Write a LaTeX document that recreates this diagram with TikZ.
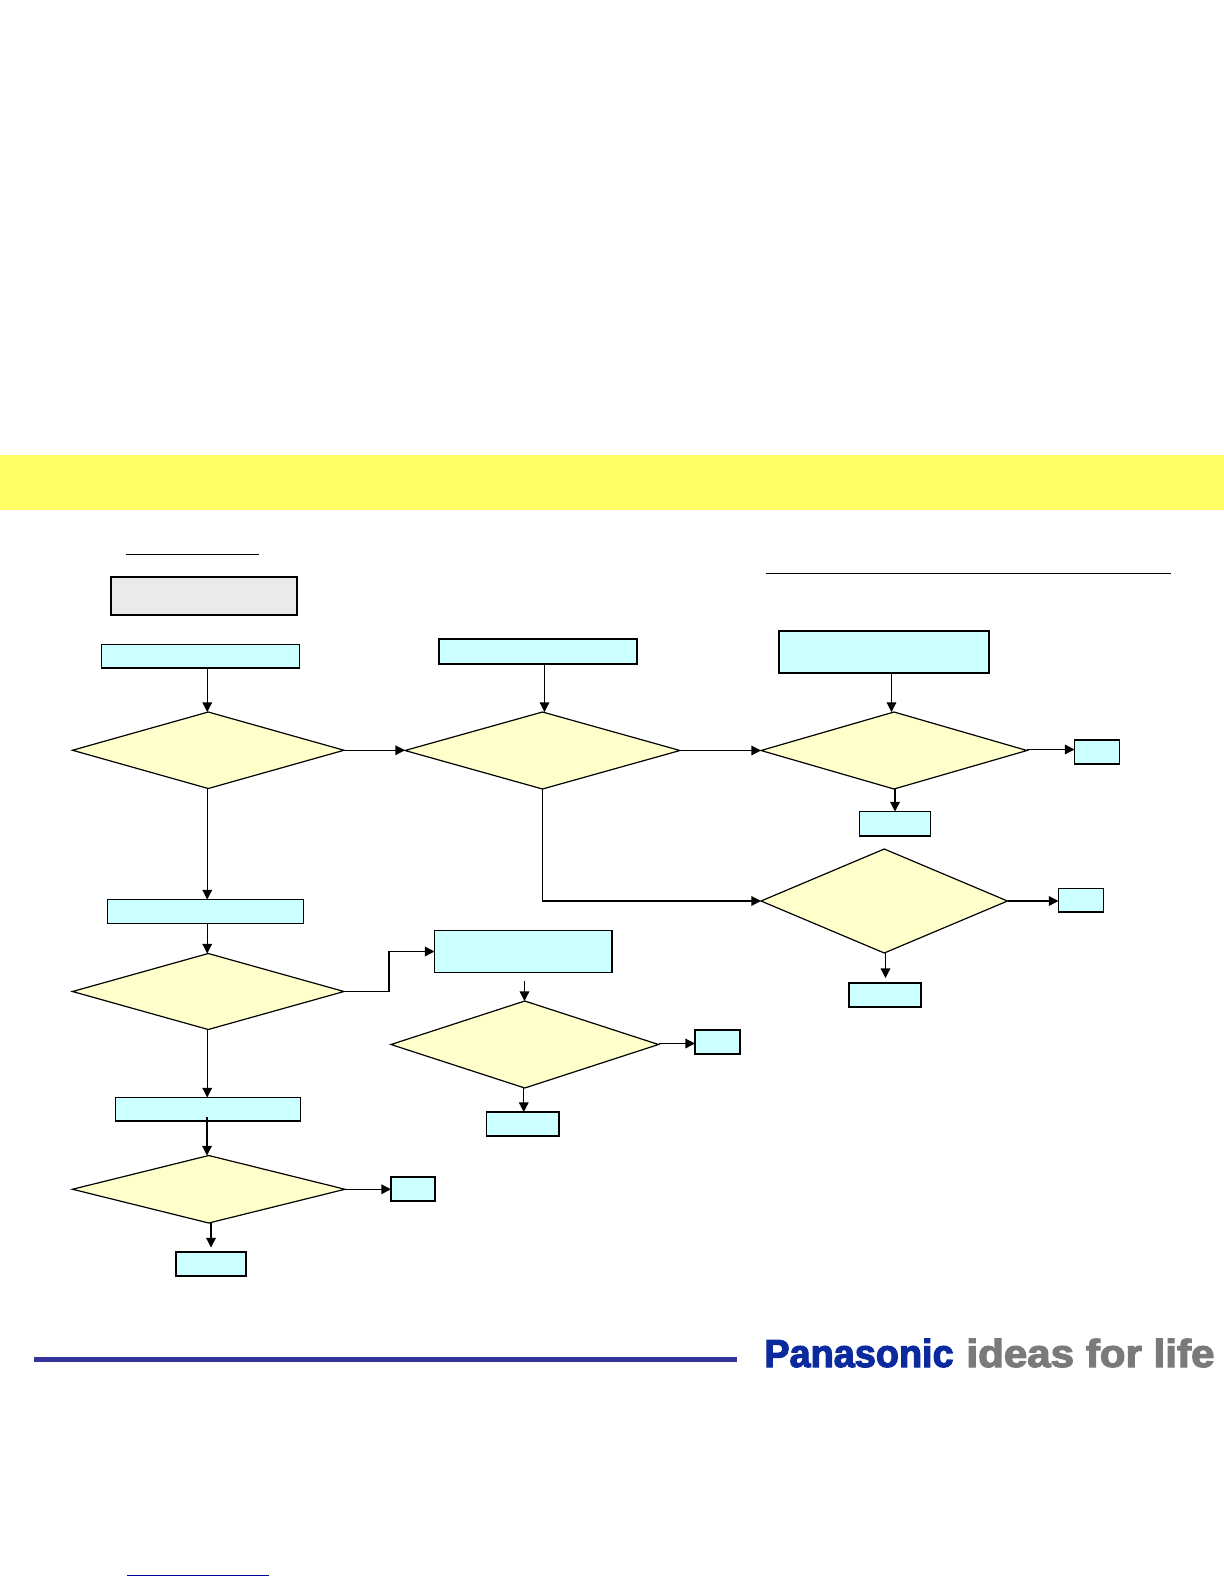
\documentclass[tikz,border=0pt]{standalone}
\usepackage{fontspec}
\usetikzlibrary{shapes.geometric,arrows.meta}
\newfontfamily\logofont[FakeBold=3]{Liberation Sans Bold}
\definecolor{bandyellow}{HTML}{FFFF66}
\definecolor{boxblue}{HTML}{CCFFFF}
\definecolor{diayellow}{HTML}{FFFFCC}
\definecolor{boxgray}{HTML}{EAEAEA}
\definecolor{rulenavy}{HTML}{333399}
\definecolor{linknavy}{HTML}{000099}
\definecolor{logoblue}{HTML}{0A2A9E}
\definecolor{logogray}{HTML}{7A7A7A}
\tikzset{
  x=0.5pt,y=-0.5pt,
  stepbox/.style={rectangle,draw=black,fill=boxblue,line width=0.6pt,inner sep=0pt,outer sep=0pt},
  heavybox/.style={stepbox,line width=1pt},
  graybox/.style={heavybox,fill=boxgray},
  choice/.style={diamond,draw=black,fill=diayellow,line width=0.6pt,inner sep=0pt,outer sep=0pt},
  arr/.style={draw=black,line width=0.6pt,-{Triangle[length=4.8pt,width=4.8pt]}},
  rulethin/.style={draw=black,line width=0.5pt},
}
% \bx[style]{name}{x1}{y1}{x2}{y2}
\newcommand{\bx}[6][stepbox]{%
  \node[#1,minimum width={(#5-#3)*0.5pt},minimum height={(#6-#4)*0.5pt}] (#2) at ({(#3+#5)/2},{(#4+#6)/2}) {};}
% \dm{name}{x1}{y1}{x2}{y2}
\newcommand{\dm}[5]{%
  \pgfmathsetmacro{\dmratio}{(#4-#2)/(#5-#3)}%
  \node[choice,aspect=\dmratio,minimum width={(#4-#2)*0.5pt},minimum height={(#5-#3)*0.5pt}] (#1) at ({(#2+#4)/2},{(#3+#5)/2}) {};}
\begin{document}
\begin{tikzpicture}
\useasboundingbox (0,0) rectangle (1224,1584);
\fill[white] (0,0) rectangle (1224,1584);
% band
\node[rectangle,fill=bandyellow,inner sep=0pt,outer sep=0pt,minimum width=612pt,minimum height=27.75pt] (band) at (612,482.25) {};
% underlines
\coordinate (ulAa) at (126,554); \coordinate (ulAb) at (259,554);
\draw[rulethin] (ulAa) -- (ulAb);
\coordinate (ulBa) at (766,573.5); \coordinate (ulBb) at (1171,573.5);
\draw[rulethin] (ulBa) -- (ulBb);
\coordinate (ulCa) at (127,1575); \coordinate (ulCb) at (269,1575);
\draw[draw=linknavy,line width=0.5pt] (ulCa) -- (ulCb);
% boxes
\bx[graybox]{legend}{110.5}{577}{297}{615}
\bx{topA}{101.5}{644.5}{299.5}{668}
\bx[heavybox]{topB}{438.5}{639}{636.5}{664}
\bx[heavybox]{topC}{779}{631}{989}{673}
\bx{boxOne}{1074.5}{740}{1119.5}{764}
\bx{boxTwo}{859.5}{811.5}{930.5}{836}
\bx{boxThree}{1058.5}{888.5}{1103.5}{912}
\bx[heavybox]{boxFour}{849}{982.5}{921}{1007}
\bx{midA}{107.5}{899.5}{303.5}{923.5}
\bx{midB}{434.5}{930.5}{612}{972.5}
\bx[heavybox]{boxFive}{695}{1030}{740}{1054}
\bx{boxSix}{486.5}{1112}{559}{1136}
\bx{lowA}{115.5}{1097.5}{300.5}{1121}
\bx[heavybox]{boxSeven}{391}{1176.5}{435}{1200.5}
\bx[heavybox]{boxEight}{175.5}{1251.5}{246}{1276}
% diamonds
\dm{dA}{72.5}{712}{344}{788.5}
\dm{dB}{405}{712}{680}{789}
\dm{dC}{761}{712}{1027}{789}
\dm{dD}{761}{849}{1007.5}{953}
\dm{dE}{72.5}{953.5}{344}{1029.5}
\dm{dF}{391}{1001}{658.5}{1088}
\dm{dG}{72.5}{1155.5}{345}{1223}
% connectors
\draw[arr] ([xshift=-0.5pt]dA.north |- topA.south) -- ([xshift=-0.5pt]dA.north);
\draw[arr] ([xshift=1pt]dB.north |- topB.south) -- ([xshift=1pt]dB.north);
\draw[arr] ([xshift=-1.25pt]dC.north |- topC.south) -- ([xshift=-1.25pt]dC.north);
\draw[arr] (dA.east) -- (dA.east -| dB.west);
\draw[arr] (dB.east) -- (dB.east -| dC.west);
\draw[arr] ([yshift=0.5pt]dC.east) -- ([yshift=0.5pt]dC.east -| boxOne.west);
\draw[arr] ([xshift=0.5pt]dC.south) -- ([xshift=0.5pt]dC.south |- boxTwo.north);
\draw[arr] (dB.south) |- (dD.west);
\draw[arr] (dD.east) -- (dD.east -| boxThree.west);
\coordinate (dDout) at (885.5,978);
\draw[arr] (dDout |- dD.south) -- (dDout);
\draw[arr] ([xshift=-0.5pt]dA.south) -- ([xshift=-0.5pt]dA.south |- midA.north);
\draw[arr] ([xshift=-0.5pt]dE.north |- midA.south) -- ([xshift=-0.5pt]dE.north);
\coordinate (elbow) at (389,991.5);
\draw[arr] (dE.east) -- (elbow) |- (midB.west);
\coordinate (dFin) at (524.5,981);
\draw[arr] (dFin) -- (dFin |- dF.north);
\draw[arr] ([yshift=0.5pt]dF.east) -- ([yshift=0.5pt]dF.east -| boxFive.west);
\draw[arr] ([xshift=-0.5pt]dF.south) -- ([xshift=-0.5pt]dF.south |- boxSix.north);
\draw[arr] ([xshift=-0.5pt]dE.south) -- ([xshift=-0.5pt]dE.south |- lowA.north);
\coordinate (lowIn) at (207,1116.5);
\draw[arr] (lowIn) -- (lowIn |- dG.north);
\draw[arr] (dG.east) -- (dG.east -| boxSeven.west);
\coordinate (dGout) at (211,1247.5);
\draw[arr] (dGout |- dG.south) -- (dGout);
% footer rule and logo
\node[rectangle,fill=rulenavy,inner sep=0pt,outer sep=0pt,minimum width=351.5pt,minimum height=2.5pt] (footrule) at (385.75,1359.5) {};
\node[anchor=base west,inner sep=0pt,text=logoblue,font={\logofont\fontsize{19.5}{19.5}\selectfont}] (logoA) at (764,1367) {\scalebox{0.97}[1]{Panasonic}};
\node[anchor=base west,inner sep=0pt,text=logogray,font={\logofont\fontsize{19.5}{19.5}\selectfont}] (logoB) at (966,1367) {\scalebox{1.08}[1]{ideas for life}};
\end{tikzpicture}
\end{document}
